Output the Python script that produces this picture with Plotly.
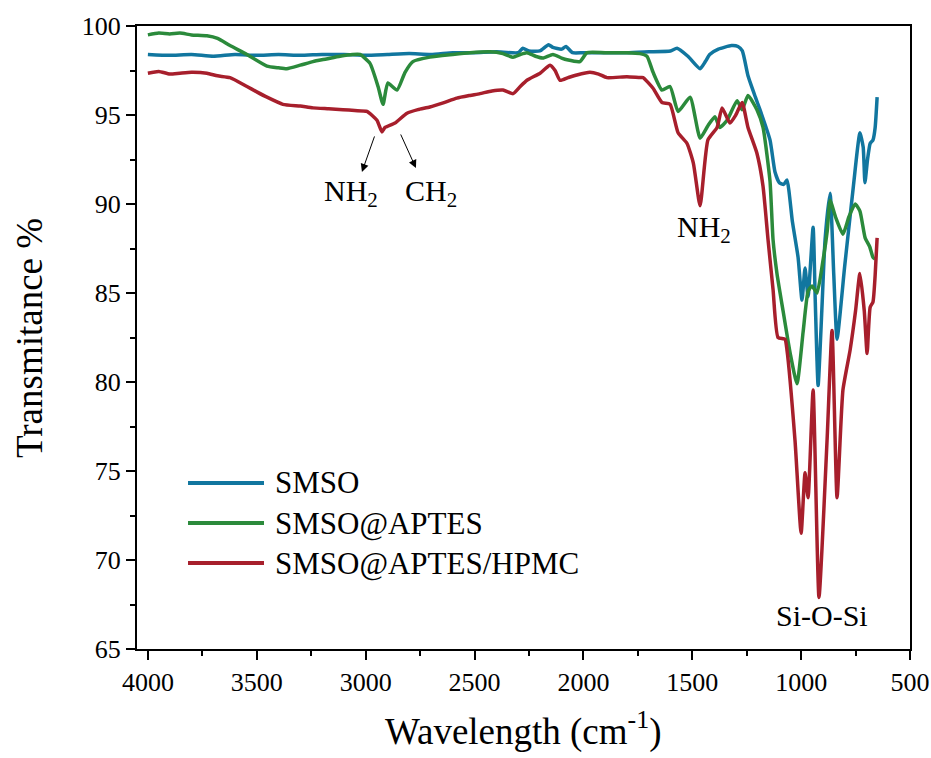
import plotly.graph_objects as go

# ---------------- data ----------------
smso_wn = [4000, 3900, 3800, 3700, 3600, 3500, 3400, 3300, 3200, 3100,
           3000, 2900, 2800, 2700, 2600, 2500, 2400, 2300, 2278, 2250,
           2200, 2160, 2140, 2100, 2080, 2050, 2000, 1900, 1800, 1700,
           1600, 1570, 1520, 1464, 1440, 1420, 1380, 1320, 1290, 1270,
           1244, 1210, 1189, 1143, 1120, 1100, 1080, 1065, 1040, 1014,
           996, 982, 968, 945, 935, 922, 905, 890, 867, 850,
           835, 800, 760, 730, 715, 707, 695, 683, 670, 660, 651]
smso_val = [98.4, 98.35, 98.4, 98.3, 98.4, 98.35, 98.4, 98.35, 98.4, 98.4,
            98.35, 98.4, 98.45, 98.4, 98.5, 98.5, 98.55, 98.5, 98.75, 98.6,
            98.6, 98.95, 98.8, 98.7, 98.85, 98.5, 98.5, 98.5, 98.5, 98.55,
            98.6, 98.75, 98.3, 97.6, 98.0, 98.4, 98.7, 98.9, 98.85, 98.6,
            97.2, 96.0, 95.3, 93.6, 91.8, 91.2, 91.1, 91.35, 89.0, 87.0,
            84.6, 86.4, 84.8, 88.7, 84.5, 79.8, 84.0, 88.0, 90.6, 86.0,
            82.4, 86.5, 91.0, 94.0, 93.2, 91.2, 92.5, 93.4, 93.6, 94.3, 96.0]

aptes_wn = [4000, 3950, 3900, 3853, 3800, 3729, 3680, 3623, 3545, 3453,
            3400, 3362, 3300, 3242, 3180, 3118, 3060, 3026, 2980, 2943,
            2920, 2898, 2856, 2819, 2783, 2705, 2600, 2521, 2429, 2370,
            2323, 2290, 2259, 2220, 2186, 2140, 2100, 2075, 2016, 1983,
            1900, 1800, 1740, 1708, 1680, 1639, 1602, 1565, 1510, 1464,
            1428, 1396, 1373, 1340, 1294, 1271, 1244, 1203, 1175, 1143,
            1129, 1111, 1083, 1050, 1019, 991, 968, 950, 927, 900,
            880, 867, 840, 808, 780, 752, 730, 706, 685, 670, 660]
aptes_val = [99.5, 99.6, 99.55, 99.6, 99.5, 99.45, 99.3, 98.9, 98.4, 97.75,
             97.65, 97.6, 97.8, 98.0, 98.15, 98.3, 98.4, 98.4, 97.9, 96.6,
             95.6, 96.8, 96.4, 97.4, 98.0, 98.25, 98.4, 98.5, 98.55, 98.45,
             98.25, 98.4, 98.5, 98.3, 98.2, 98.4, 98.2, 98.1, 98.0, 98.5,
             98.5, 98.5, 98.45, 98.3, 97.4, 96.4, 96.6, 95.2, 96.0, 93.7,
             94.4, 94.9, 94.3, 94.7, 95.8, 95.3, 96.1, 95.3, 94.3, 91.3,
             88.0, 86.1, 84.0, 81.6, 79.9, 82.8, 85.1, 85.4, 85.0, 86.8,
             88.5, 90.2, 89.2, 88.3, 89.3, 90.0, 89.6, 88.1, 87.6, 87.0, 86.9]

hpmc_wn = [4000, 3950, 3900, 3853, 3800, 3729, 3680, 3623, 3545, 3500,
           3453, 3380, 3300, 3242, 3170, 3104, 3050, 2994, 2948, 2925,
           2911, 2865, 2810, 2760, 2705, 2640, 2581, 2520, 2475, 2420,
           2369, 2323, 2290, 2259, 2199, 2153, 2130, 2107, 2070, 2030,
           1970, 1930, 1892, 1800, 1740, 1726, 1680, 1639, 1602, 1565,
           1524, 1495, 1464, 1428, 1386, 1363, 1327, 1300, 1271, 1244,
           1203, 1175, 1152, 1129, 1106, 1074, 1065, 1028, 1000, 982,
           968, 945, 918, 881, 858, 835, 808, 775, 750, 730,
           710, 697, 683, 670, 660, 651]
hpmc_val = [97.35, 97.45, 97.3, 97.35, 97.4, 97.35, 97.2, 97.1, 96.6, 96.3,
            96.0, 95.6, 95.5, 95.4, 95.35, 95.3, 95.25, 95.2, 94.7, 94.05,
            94.3, 94.55, 95.1, 95.3, 95.45, 95.7, 95.95, 96.1, 96.2, 96.35,
            96.4, 96.2, 96.6, 96.95, 97.35, 97.8, 97.5, 96.95, 97.1, 97.25,
            97.4, 97.3, 97.1, 97.15, 97.1, 97.1, 96.5, 95.7, 95.6, 94.0,
            93.4, 92.3, 89.9, 93.6, 94.3, 95.4, 94.55, 95.0, 95.7, 94.3,
            92.85, 91.0, 88.0, 85.2, 82.5, 82.4, 81.8, 76.7, 71.5, 74.9,
            73.5, 79.55, 67.9, 76.7, 82.9, 73.5, 79.55, 81.8, 84.0, 86.1,
            84.0, 81.6, 84.2, 84.5, 86.0, 88.1]

series_names = ["SMSO", "SMSO@APTES", "SMSO@APTES/HPMC"]
series_colors = ["#11769f", "#2b8a3b", "#a71f2c"]
x_ticks = [4000, 3500, 3000, 2500, 2000, 1500, 1000, 500]
y_ticks = [65, 70, 75, 80, 85, 90, 95, 100]

FONT = "Liberation Serif"

fig = go.Figure()
for wn, val, name, col in zip([smso_wn, aptes_wn, hpmc_wn],
                              [smso_val, aptes_val, hpmc_val],
                              series_names, series_colors):
    fig.add_trace(go.Scatter(x=wn, y=val, mode="lines", name=name,
                             line=dict(color=col, width=3.5, shape="spline", smoothing=0.5),
                             showlegend=False))

# manual legend (long line samples as in the reference)
leg_y = [0.2665, 0.2022, 0.138]
for yy, name, col in zip(leg_y, series_names, series_colors):
    fig.add_shape(type="line", xref="paper", yref="paper",
                  x0=0.066, x1=0.1643, y0=yy, y1=yy,
                  line=dict(color=col, width=4))
    fig.add_annotation(xref="paper", yref="paper", x=0.176, y=yy,
                       text=name, showarrow=False, xanchor="left", yanchor="middle",
                       font=dict(family=FONT, size=31, color="black"))

# peak labels
ann_font = dict(family=FONT, size=30, color="black")
fig.add_annotation(x=3065, y=90.6, text="NH<sub>2</sub>", showarrow=False, font=ann_font)
fig.add_annotation(x=2700, y=90.6, text="CH<sub>2</sub>", showarrow=False, font=ann_font)
fig.add_annotation(x=1446, y=88.6, text="NH<sub>2</sub>", showarrow=False, font=ann_font)
fig.add_annotation(x=905, y=66.9, text="Si-O-Si", showarrow=False, font=ann_font)

# arrows
fig.add_annotation(x=3017, y=91.8, ax=2957, ay=93.88, axref="x", ayref="y",
                   text="", showarrow=True, arrowhead=2, arrowsize=1.6,
                   arrowwidth=1, arrowcolor="black")
fig.add_annotation(x=2769, y=92.02, ax=2842, ay=93.99, axref="x", ayref="y",
                   text="", showarrow=True, arrowhead=2, arrowsize=1.6,
                   arrowwidth=1, arrowcolor="black")

# axis titles (placed as in the reference)
fig.add_annotation(xref="paper", yref="paper", x=0.4994, y=-0.128,
                   text="Wavelength (cm<sup>-1</sup>)", showarrow=False,
                   xanchor="center", yanchor="middle",
                   font=dict(family=FONT, size=37, color="black"))
fig.add_annotation(xref="paper", yref="paper", x=-0.1384, y=0.4992,
                   text="Transmitance %", showarrow=False, textangle=-90,
                   xanchor="center", yanchor="middle",
                   font=dict(family=FONT, size=37, color="black"))

fig.update_xaxes(range=[4050, 500], tickvals=x_ticks,
                 ticktext=[str(t) for t in x_ticks],
                 showline=True, linecolor="black", linewidth=2, mirror=True,
                 ticks="outside", ticklen=9, tickwidth=2, tickcolor="black",
                 minor=dict(dtick=250, ticks="outside", ticklen=5, tickwidth=2, tickcolor="black"),
                 showgrid=False, zeroline=False, automargin=False,
                 tickfont=dict(family=FONT, size=26, color="black"))
fig.update_yaxes(range=[65, 100], tickvals=y_ticks,
                 showline=True, linecolor="black", linewidth=2, mirror=True,
                 ticks="outside", ticklen=9, tickwidth=2, tickcolor="black",
                 minor=dict(dtick=2.5, ticks="outside", ticklen=5, tickwidth=2, tickcolor="black"),
                 showgrid=False, zeroline=False, automargin=False,
                 tickfont=dict(family=FONT, size=26, color="black"))

fig.update_layout(width=931, height=758,
                  margin=dict(l=137, r=21, t=26, b=109),
                  plot_bgcolor="white", paper_bgcolor="white",
                  font=dict(family=FONT, color="black"))

fig.write_html("out.html")
